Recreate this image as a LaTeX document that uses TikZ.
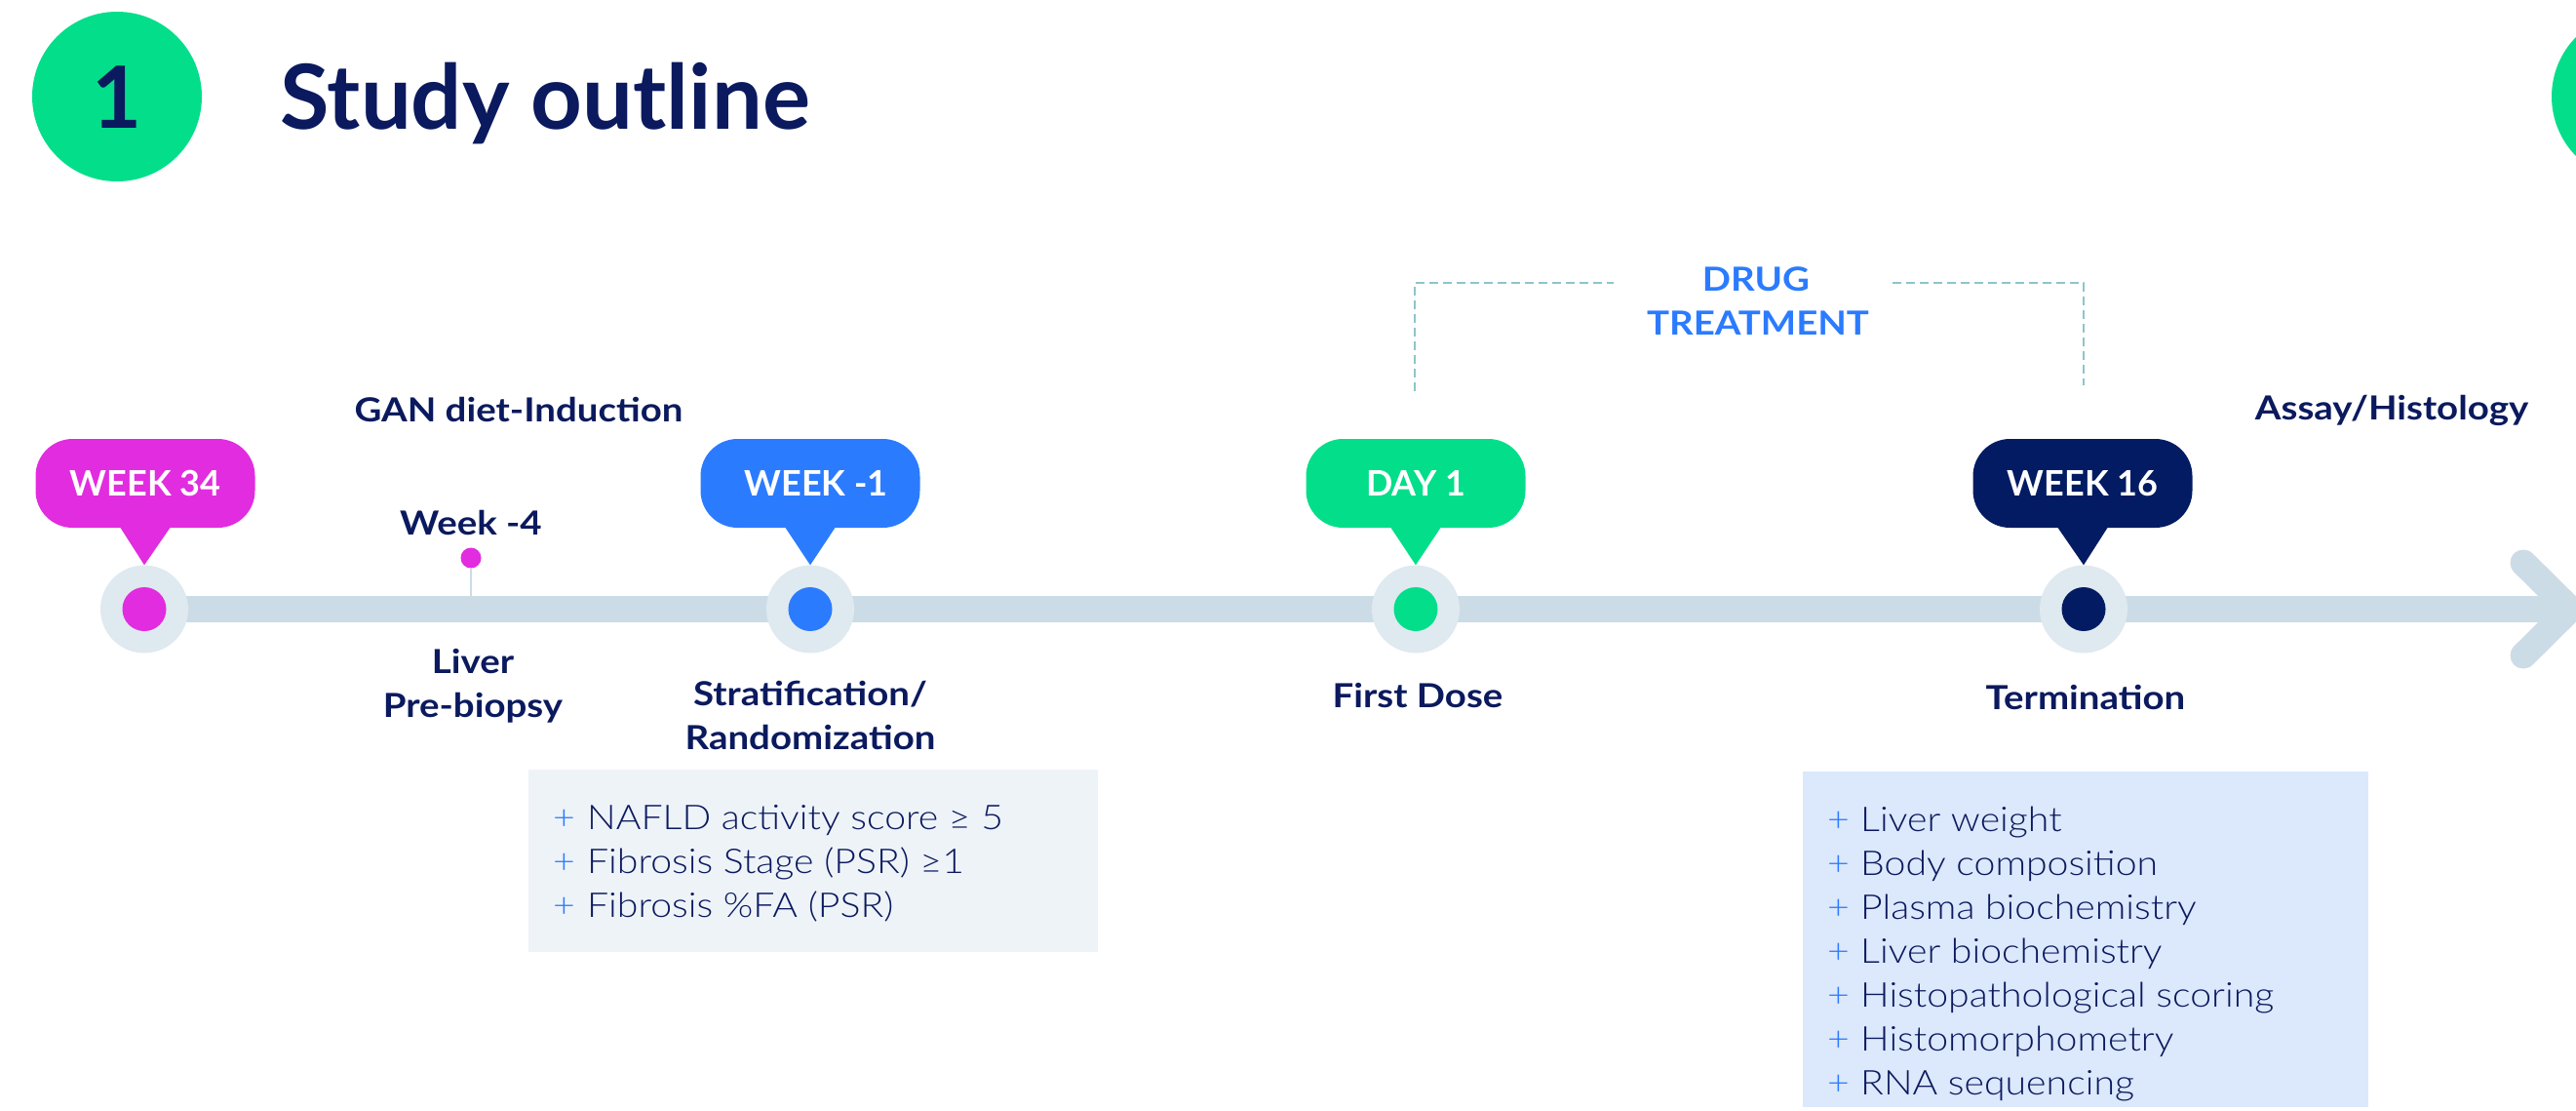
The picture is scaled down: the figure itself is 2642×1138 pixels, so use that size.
\documentclass[tikz,border=0pt]{standalone}
\usepackage{fontspec}
\setmainfont{Lato}
\newfontfamily\wideface[FakeStretch=1.13]{Lato}
\newfontfamily\itemface[FakeStretch=1.12]{Lato Light}
\definecolor{navy}{HTML}{0B1A5E}
\definecolor{navyb}{HTML}{031B62}
\definecolor{mag}{HTML}{E22CDF}
\definecolor{bluec}{HTML}{2B7BFF}
\definecolor{greenc}{HTML}{03DE8A}
\definecolor{barc}{HTML}{CCDCE6}
\definecolor{ringc}{HTML}{DFE9F0}
\definecolor{lboxc}{HTML}{EEF3F8}
\definecolor{rboxc}{HTML}{DCE8FB}
\definecolor{dashc}{HTML}{8CC5CB}
\newcommand\bubfont{\bfseries\fontsize{36}{40}\selectfont}
\newcommand\lblfont{\wideface\bfseries\fontsize{34}{40}\selectfont}
\newcommand\itmfont{\itemface\fontsize{35}{42}\selectfont}
\begin{document}
\begin{tikzpicture}[x=1pt,y=-1pt,
  bubble/.style={rounded corners=38pt, minimum width=225pt, minimum height=91pt, inner sep=0pt, text=white, font=\bubfont},
  ring/.style={circle, fill=ringc, minimum size=90pt, inner sep=0pt},
  dotc/.style={circle, minimum size=45pt, inner sep=0pt},
  lbl/.style={text=navy, font=\lblfont, inner sep=0pt, anchor=base},
  item/.style={text=navy, font=\itmfont, inner sep=0pt, anchor=base west},
  barline/.style={draw=barc, line width=27pt},
  dashline/.style={draw=dashc, line width=2.5pt, dash pattern=on 9pt off 5pt}
]
\useasboundingbox (0,0) rectangle (2642,1138);
% header
\node[circle, fill=greenc, minimum size=174pt, inner sep=0pt] (numc) at (120,99) {};
\node[text=navy, font=\bfseries\fontsize{88}{88}\selectfont, inner sep=0pt] (numt) at (120,100) {1};
\node[circle, fill=greenc, minimum size=174pt, inner sep=0pt] (numc2) at (2704,99) {};
\node[anchor=base west, inner sep=0pt, text=navy, font=\bfseries\fontsize{92}{100}\selectfont] (title) at (287,132) {Study outline};
% timeline positions
\coordinate (t34) at (148,624.5);
\coordinate (tm1) at (831,624.5);
\coordinate (td1) at (1452,624.5);
\coordinate (t16) at (2137,624.5);
\coordinate (tip) at (2636,624.5);
\coordinate (ca) at (2588,577);
\coordinate (cb) at (2588,672);
\draw[barline] (t34) -- (tip);
\draw[barline, line cap=round, line join=round] (ca) -- (tip) -- (cb);
% week -4 pin
\node[circle, fill=mag, minimum size=21pt, inner sep=0pt] (pin) at (483,572) {};
\coordinate (pinbase) at (483,612);
\draw[draw=barc, line width=2pt] (pin) -- (pinbase);
% rings
\node[ring] (r34) at (t34) {};
\node[dotc, fill=mag] (d34) at (t34) {};
\node[ring] (rm1) at (tm1) {};
\node[dotc, fill=bluec] (dm1) at (tm1) {};
\node[ring] (rd1) at (td1) {};
\node[dotc, fill=greenc] (dd1) at (td1) {};
\node[ring] (r16) at (t16) {};
\node[dotc, fill=navyb] (d16) at (t16) {};
% bubbles
\node[bubble, fill=mag] (b34) at (149,495.5) {WEEK 34};
\fill[mag] ([shift={(-26,-1)}]b34.south) -- ([shift={(26,-1)}]b34.south) -- (r34.north) -- cycle;
\node[bubble, fill=bluec] (bm1) at (831,495.5) {\hspace*{12pt}WEEK -1};
\fill[bluec] ([shift={(-26,-1)}]bm1.south) -- ([shift={(26,-1)}]bm1.south) -- (rm1.north) -- cycle;
\node[bubble, fill=greenc] (bd1) at (1452,495.5) {DAY 1};
\fill[greenc] ([shift={(-26,-1)}]bd1.south) -- ([shift={(26,-1)}]bd1.south) -- (rd1.north) -- cycle;
\node[bubble, fill=navyb] (b16) at (2136,495.5) {WEEK 16};
\fill[navyb] ([shift={(-26,-1)}]b16.south) -- ([shift={(26,-1)}]b16.south) -- (r16.north) -- cycle;
% labels
\node[lbl] (gan) at (532,432) {GAN diet-Induction};
\node[lbl] (wk4) at (483,548) {Week -4};
\node[lbl] (liv1) at (485,690) {Liver};
\node[lbl] (liv2) at (485,735) {Pre-biopsy};
\node[lbl] (str1) at (831,723) {Stratification/};
\node[lbl] (str2) at (831,768) {Randomization};
\node[lbl] (fd) at (1454,725) {First Dose};
\node[lbl] (term) at (2139,727) {Termination};
\node[lbl] (assay) at (2453,430) {Assay/Histology};
\node[lbl, text=bluec] (drug1) at (1801,298) {DRUG};
\node[lbl, text=bluec] (drug2) at (1803,343) {TREATMENT};
% bracket
\coordinate (bl0) at (1451,401);
\coordinate (bl1) at (1451,290);
\coordinate (bl2) at (1655,290);
\coordinate (br0) at (1941,290);
\coordinate (br1) at (2137,290);
\coordinate (br2) at (2137,395);
\draw[dashline] (bl0) -- (bl1) -- (bl2);
\draw[dashline] (br0) -- (br1) -- (br2);
% boxes
\node[fill=lboxc, minimum width=584pt, minimum height=187pt, inner sep=0pt, anchor=north west] (lbox) at (542,789) {};
\node[fill=rboxc, minimum width=580pt, minimum height=344pt, inner sep=0pt, anchor=north west] (rbox) at (1849,791) {};
\foreach \t [count=\i] in {NAFLD activity score ≥ 5, Fibrosis Stage (PSR) ≥1, Fibrosis \%FA (PSR)}
  \node[item] (la\i) at (567,805+45*\i) {\makebox[35pt][l]{\textcolor{bluec}{+}}\t};
\foreach \t [count=\i] in {Liver weight, Body composition, Plasma biochemistry, Liver biochemistry, Histopathological scoring, Histomorphometry, RNA sequencing}
  \node[item] (ra\i) at (1874,807+45*\i) {\makebox[34pt][l]{\textcolor{bluec}{+}}\t};
\end{tikzpicture}
\end{document}
